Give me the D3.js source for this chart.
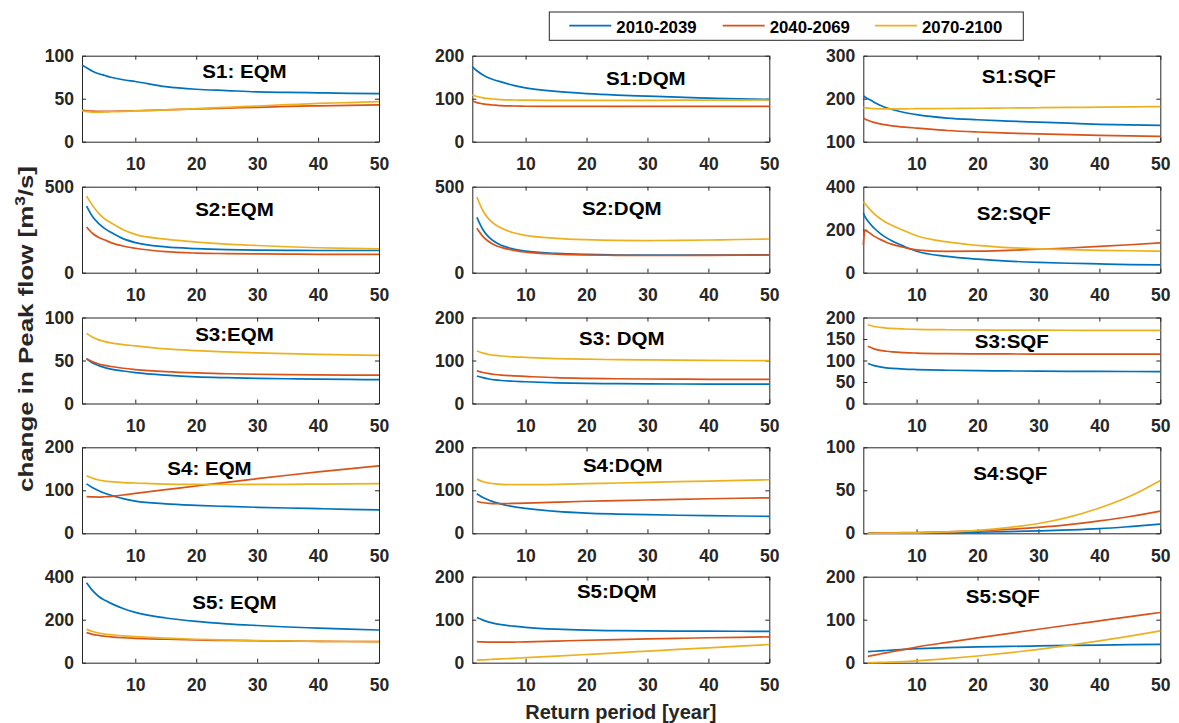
<!DOCTYPE html>
<html><head><meta charset="utf-8">
<script src="https://cdn.jsdelivr.net/npm/d3@7"></script>
<style>body{margin:0;background:#fff}</style>
</head><body><svg id="c" width="1179" height="723"></svg>
<script>
// ---------- DATA ----------
const seriesNames = ["2010-2039", "2040-2069", "2070-2100"];
const xDomain = [1.25, 50];
const xTicks = [10, 20, 30, 40, 50];
const periodsA = [1.25, 1.5, 2, 3, 4, 5, 6, 8, 10, 15, 20, 25, 30, 35, 40, 45, 50];
const periodsB = [2, 3, 4, 5, 6, 8, 10, 15, 20, 25, 30, 35, 40, 45, 50];

// each: [2010-2039, 2040-2069, 2070-2100]
const s1EQM = [
  [89, 88, 86, 82, 79, 77, 75, 72, 70, 64, 61, 59.5, 58, 57.3, 56.8, 56.3, 56],
  [37, 36.6, 36, 35.5, 35.3, 35.3, 35.4, 35.6, 36, 37, 38, 39, 40, 41, 41.7, 42.3, 42.8],
  [36, 35.6, 35, 34.5, 34.5, 34.6, 34.8, 35.2, 35.8, 37, 38.5, 40, 41.5, 43, 44.5, 45.5, 46.5]];
const s1DQM = [
  [175, 171, 165, 155, 148, 143, 139, 131, 125, 117, 112, 108.5, 106, 103.5, 101.5, 99.5, 98],
  [95, 93.5, 91, 88, 86, 85, 84, 83, 82.5, 82, 82, 82, 82, 82, 82, 82, 82],
  [109, 107.5, 105, 102, 100, 99, 98, 97, 96.5, 96, 96, 96, 96, 96.5, 96.5, 96.8, 97]];
const s1SQF = [
  [207, 204, 200, 192, 185, 179, 175, 168, 163, 155, 151, 148, 145.5, 143, 140.5, 139, 138],
  [155, 153, 150, 145, 141.5, 139, 137, 134, 131.7, 126, 122.5, 120, 118, 116.3, 114.8, 113.5, 112.5],
  [179.5, 179, 178, 177, 176.5, 176.3, 176.3, 176.5, 176.7, 177.2, 177.8, 178.4, 179, 179.7, 180.3, 181, 181.5]];
const s2EQM = [
  [387, 325, 285, 256, 235, 198, 175, 150, 140, 134, 131, 130, 129, 129, 129],
  [266, 228, 205, 190, 175, 155, 142, 122, 114, 111, 109, 108, 107, 107, 107],
  [445, 390, 345, 312, 290, 250, 223, 195, 178, 166, 158, 151, 145, 141, 139]];
const s2DQM = [
  [322, 250, 205, 178, 160, 138, 125, 112, 106, 103, 102, 102, 102, 103, 104],
  [258, 210, 180, 160, 147, 130, 120, 108, 103, 101, 100, 100, 101, 102, 103],
  [440, 360, 310, 280, 260, 232, 217, 200, 192, 188, 187, 188, 190, 193, 196]];
const s2SQF = [
  [278, 262, 240, 208, 183, 163, 147, 122, 100, 76, 63, 54, 48, 44, 41, 38, 36],
  [130, 197, 190, 170, 155, 142, 132, 117, 106, 99, 100, 104, 109, 115, 122, 130, 139],
  [330, 322, 305, 275, 252, 234, 220, 195, 172, 143, 127, 117, 111, 107, 104, 102, 100]];
const s3EQM = [
  [52, 47, 44, 41.7, 40, 37.8, 36, 33, 31, 30, 29.3, 28.8, 28.3, 28, 27.7],
  [52, 48.5, 46, 44.3, 43, 41, 39.5, 37, 35.5, 34.6, 34, 33.6, 33.3, 33.1, 33],
  [81.5, 77, 74, 72, 70.5, 68.5, 67, 63.5, 61.5, 60, 58.8, 58, 57.2, 56.6, 56]];
const s3DQM = [
  [64, 60, 57, 55, 53.5, 51.8, 50.6, 48, 46.6, 46, 45.6, 45.3, 45.2, 45.1, 45],
  [76, 72, 69.5, 67.5, 66, 64.3, 63, 60, 58.5, 57.6, 57, 56.6, 56.3, 56.1, 56],
  [122, 117, 114, 112, 110.5, 108.5, 107.3, 104.5, 103, 102, 101.3, 100.7, 100.3, 100, 99.7]];
const s3SQF = [
  [93, 88, 85, 83, 81.7, 80, 79, 77.3, 76.3, 75.7, 75.2, 74.9, 74.6, 74.4, 74.2],
  [133, 127, 123.5, 121.5, 120, 118.3, 117.3, 116, 115.5, 115.2, 115, 115, 115, 115, 115],
  [183, 179, 177, 175.5, 174.5, 173.3, 172.5, 171.5, 171, 170.7, 170.5, 170.3, 170.2, 170.1, 170]];
const s4EQM = [
  [115, 106, 99, 93, 88.5, 80.5, 75, 68.5, 65, 62.5, 60.5, 58.8, 57.3, 55.8, 54.5],
  [85.5, 84.5, 84.3, 85, 86, 89, 93, 101.5, 110, 118.5, 127, 135, 142.7, 150, 157],
  [134, 128, 124, 121.5, 120, 118, 117, 114.5, 113.7, 113.5, 113.7, 114, 114.5, 115, 115.3]];
const s4DQM = [
  [92, 83, 77, 72, 68, 62, 58, 51, 47, 44.8, 43.2, 42, 41, 40.2, 39.5],
  [74, 71, 69.5, 69, 69, 69.5, 70.3, 72.5, 74.5, 76, 77.5, 79, 80.3, 81.5, 82.5],
  [126, 120, 117, 115, 114, 113.3, 113.3, 114, 115.5, 117, 118.5, 120, 121.5, 123, 124.5]];
const s4SQF = [
  [0.3, 0.3, 0.35, 0.4, 0.4, 0.45, 0.5, 0.8, 1.3, 1.9, 2.8, 3.9, 5.4, 7.8, 10.6],
  [0.3, 0.35, 0.4, 0.5, 0.55, 0.7, 0.9, 1.6, 2.8, 4.5, 6.8, 10, 14.4, 19.5, 25.8],
  [0, 0.05, 0.1, 0.2, 0.3, 0.45, 0.6, 1.6, 3.4, 6.6, 11.4, 18.8, 29.4, 43, 61.5]];
const s5EQM = [
  [372, 335, 308, 290, 276, 252, 234, 208, 192, 181, 173, 166, 161, 156, 152],
  [140, 132, 127, 123, 120, 116, 113.5, 109, 105.5, 103.5, 102, 100.5, 99.5, 98.5, 97.7],
  [155, 145, 138, 133, 130, 125, 121, 114, 109, 105.5, 103, 101, 99.5, 98.5, 97.7]];
const s5DQM = [
  [105, 99, 94.5, 91, 88.5, 85, 82.3, 78, 75.6, 74.5, 73.8, 73.4, 73.2, 73.1, 73],
  [49, 48.3, 48, 47.8, 47.8, 48, 48.5, 50.3, 52.2, 53.8, 55.3, 56.7, 58, 59.1, 60],
  [6, 6.7, 7.4, 8.1, 8.8, 10.2, 11.6, 15.3, 19.1, 23, 26.9, 30.8, 34.6, 38.4, 42.3]];
const s5SQF = [
  [25.7, 26.6, 27.5, 28.4, 29.3, 31.2, 32.8, 35, 36.6, 37.9, 39, 40.1, 41.1, 42, 42.8],
  [14.8, 17.5, 20.2, 23, 25.7, 31.1, 36.5, 47.2, 57.6, 67.8, 77.8, 87.6, 97.3, 107, 116.7],
  [0, 0.3, 0.6, 1, 1.5, 2.7, 4.2, 9.3, 15.6, 22.7, 31, 40.3, 50.6, 61.8, 74]];

const panelTitles = ["S1: EQM","S1:DQM","S1:SQF","S2:EQM","S2:DQM","S2:SQF","S3:EQM","S3: DQM","S3:SQF","S4: EQM","S4:DQM","S4:SQF","S5: EQM","S5:DQM","S5:SQF"];
const panelValues = [s1EQM,s1DQM,s1SQF,s2EQM,s2DQM,s2SQF,s3EQM,s3DQM,s3SQF,s4EQM,s4DQM,s4SQF,s5EQM,s5DQM,s5SQF];
const panelPeriods = [periodsA,periodsA,periodsA,periodsB,periodsB,periodsA,periodsB,periodsB,periodsB,periodsB,periodsB,periodsB,periodsB,periodsB,periodsB];
const yTickSets = [
  [0,50,100],[0,100,200],[100,200,300],
  [0,500],[0,500],[0,200,400],
  [0,50,100],[0,100,200],[0,50,100,150,200],
  [0,100,200],[0,100,200],[0,50,100],
  [0,200,400],[0,100,200],[0,100,200]];

// ---------- LAYOUT / STYLE ----------
const colors = ["#0072BD", "#D95319", "#EDB120"];
const colLeft = [82, 472.3, 863.3], rowTop = [55.7, 186.7, 317.5, 447.3, 576.7];
const pw = 297, ph = 86;
const titleOffsets = [[14,22.6],[25,29.3],[7,27.6],[4,29],[1,28],[2,33.3],[4,23],[1,27.5],[0,30],[-21,27.7],[2,25],[-1.5,32.7],[4,32.3],[-4,21.6],[-9,26]];
const FONT = "'Liberation Sans', Arial, sans-serif";
const AX = "#262626";

const svg = d3.select("#c");
svg.append("rect").attr("width",1179).attr("height",723).attr("fill","#fff");

panelTitles.forEach((title, i) => {
  const r = Math.floor(i/3), c = i%3;
  const x0 = colLeft[c], y0 = rowTop[r];
  const ticks = yTickSets[i];
  const x = d3.scaleLinear().domain(xDomain).range([x0, x0+pw]);
  const y = d3.scaleLinear().domain([ticks[0], ticks[ticks.length-1]]).range([y0+ph, y0]);
  const g = svg.append("g");

  const styleAxis = sel => {
    sel.select(".domain").attr("stroke", AX).attr("stroke-width", 1);
    sel.selectAll(".tick line").attr("stroke", AX).attr("stroke-width", 1);
    sel.selectAll("text").attr("fill", AX).attr("font-family", FONT)
      .attr("font-weight", "bold").attr("font-size", 17.5);
  };
  g.append("g").attr("transform", `translate(0,${y0+ph})`)
    .call(d3.axisBottom(x).tickValues(xTicks).tickSizeInner(-4).tickSizeOuter(0).tickPadding(16).tickFormat(d3.format("d")))
    .call(styleAxis);
  g.append("g").attr("transform", `translate(0,${y0})`)
    .call(d3.axisTop(x).tickValues(xTicks).tickSizeInner(-4).tickSizeOuter(0).tickFormat(""))
    .call(styleAxis);
  g.append("g").attr("transform", `translate(${x0},0)`)
    .call(d3.axisLeft(y).tickValues(ticks).tickSizeInner(-4).tickSizeOuter(0).tickPadding(8).tickFormat(d3.format("d")))
    .call(styleAxis);
  g.append("g").attr("transform", `translate(${x0+pw},0)`)
    .call(d3.axisRight(y).tickValues(ticks).tickSizeInner(-4).tickSizeOuter(0).tickFormat(""))
    .call(styleAxis);

  const periods = panelPeriods[i];
  const line = d3.line().x((d,k) => x(periods[k])).y(d => y(d)).curve(d3.curveMonotoneX);
  panelValues[i].forEach((vals, s) => {
    g.append("path").attr("d", line(vals)).attr("fill","none")
      .attr("stroke", colors[s]).attr("stroke-width", 1.7);
  });

  const off = titleOffsets[i];
  g.append("text").attr("transform", `translate(${x0+pw/2+off[0]},${y0+off[1]}) scale(1.14,1)`)
    .attr("text-anchor","middle").attr("font-family",FONT).attr("font-weight","bold")
    .attr("font-size",18).attr("fill","#000").text(title);
});

// legend
const lg = svg.append("g");
lg.append("rect").attr("x",549.3).attr("y",12).attr("width",474).attr("height",28.3)
  .attr("fill","#fff").attr("stroke",AX).attr("stroke-width",1);
const legX = [569.3, 722.7, 875];
seriesNames.forEach((n, s) => {
  lg.append("line").attr("x1",legX[s]).attr("x2",legX[s]+42).attr("y1",25.7).attr("y2",25.7)
    .attr("stroke",colors[s]).attr("stroke-width",1.7);
  lg.append("text").attr("x",legX[s]+47).attr("y",32.5).attr("font-family",FONT)
    .attr("font-weight","bold").attr("font-size",16.8).attr("fill","#000").text(n);
});

// axis labels
svg.append("text").attr("x",620.8).attr("y",719).attr("text-anchor","middle")
  .attr("font-family",FONT).attr("font-weight","bold").attr("font-size",20).attr("fill",AX)
  .text("Return period [year]");
const yl = svg.append("text").attr("transform","translate(33,329) rotate(-90)").attr("text-anchor","middle")
  .attr("font-family",FONT).attr("font-weight","bold").attr("font-size",21).attr("fill",AX)
  .attr("textLength",326).attr("lengthAdjust","spacingAndGlyphs");
yl.append("tspan").text("change in Peak flow [m");
yl.append("tspan").attr("baseline-shift","super").attr("font-size",14).text("3");
yl.append("tspan").text("/s]");
</script></body></html>
